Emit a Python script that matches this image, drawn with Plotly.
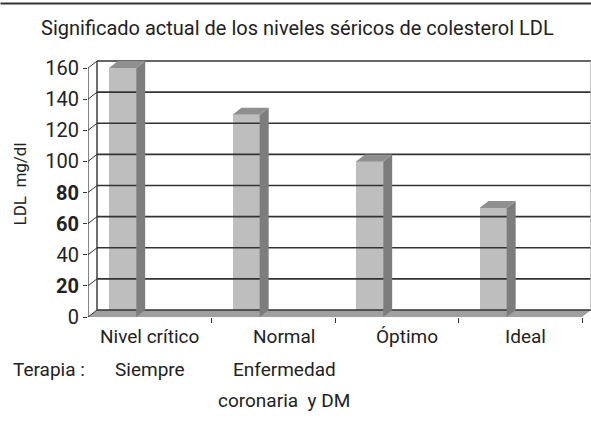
import plotly.graph_objects as go

# ---- data ----
categories = ["Nivel crítico", "Normal", "Óptimo", "Ideal"]
ldl_values = [160, 130, 100, 70]
therapy_labels = ["Siempre", "Enfermedad", None, None]
therapy_labels2 = [None, "coronaria  y DM", None, None]
y_ticks = [0, 20, 40, 60, 80, 100, 120, 140, 160]
y_ticktext = ["0", "<b>20</b>", "40", "<b>60</b>", "<b>80</b>", "100", "120", "140", "160"]
title = "Significado actual de los niveles séricos de colesterol LDL"
y_title = "LDL  mg/dl"
therapy_title = "Terapia :"

# ---- styling / geometry ----
FONT = "Roboto, sans-serif"
W, H = 591, 421
L, R, T, B = 88, 0, 60, 104
px_per_cat = 123.5
px_per_unit = 1.556
xmax = (W - L - R) / px_per_cat
ymax = (H - T - B) / px_per_unit
DX = 9 / px_per_cat     # depth offset, x (category units)
DY = 7 / px_per_unit    # depth offset, y (value units)
BAR_OFF, BAR_W = 0.17, 0.22
FRONT, SIDE, TOP = "#bebebe", "#7d7d7d", "#8f8f8f"
GRID = "#333333"
TXT = "#222222"
n = len(categories)

fig = go.Figure()

# floor slab
fig.add_trace(go.Scatter(x=[0, n, n + DX, DX, 0], y=[0, 0, DY, DY, 0], fill="toself",
                         fillcolor="#a0a0a0", line=dict(width=0), mode="lines",
                         hoverinfo="skip", showlegend=False, cliponaxis=False))

# back wall gridlines
gx, gy = [], []
for v in y_ticks:
    gx += [DX, n + DX, None]
    gy += [v + DY, v + DY, None]
fig.add_trace(go.Scatter(x=gx, y=gy, mode="lines", line=dict(color=GRID, width=1.6),
                         hoverinfo="skip", showlegend=False, cliponaxis=False))
# back wall left edge, right edge
fig.add_trace(go.Scatter(x=[DX, DX], y=[DY, y_ticks[-1] + DY], mode="lines",
                         line=dict(color=GRID, width=1.4), hoverinfo="skip",
                         showlegend=False, cliponaxis=False))
fig.add_trace(go.Scatter(x=[n + DX, n + DX], y=[DY, y_ticks[-1] + DY], mode="lines",
                         line=dict(color="#b0b0b0", width=1.4), hoverinfo="skip",
                         showlegend=False, cliponaxis=False))
# tick connectors (front axis -> back wall)
cx, cy = [], []
for v in y_ticks:
    cx += [0, DX, None]
    cy += [v, v + DY, None]
fig.add_trace(go.Scatter(x=cx, y=cy, mode="lines", line=dict(color=GRID, width=1),
                         hoverinfo="skip", showlegend=False, cliponaxis=False))
# front axis line
fig.add_trace(go.Scatter(x=[0, 0], y=[0, y_ticks[-1]], mode="lines",
                         line=dict(color=GRID, width=1.2), hoverinfo="skip",
                         showlegend=False, cliponaxis=False))

# bars: front face
bar_x = [i + BAR_OFF + BAR_W / 2 for i in range(n)]
fig.add_trace(go.Bar(x=bar_x, y=ldl_values, width=BAR_W, marker=dict(color=FRONT, line=dict(width=0)),
                     showlegend=False, hoverinfo="skip"))
# bars: side and top faces
for i, v in enumerate(ldl_values):
    x0 = i + BAR_OFF
    x1 = x0 + BAR_W
    fig.add_trace(go.Scatter(x=[x1, x1 + DX, x1 + DX, x1, x1], y=[0, DY, v + DY, v, 0],
                             fill="toself", fillcolor=SIDE, line=dict(width=0), mode="lines",
                             hoverinfo="skip", showlegend=False))
    fig.add_trace(go.Scatter(x=[x0, x0 + DX, x1 + DX, x1, x0], y=[v, v + DY, v + DY, v, v],
                             fill="toself", fillcolor=TOP, line=dict(width=0), mode="lines",
                             hoverinfo="skip", showlegend=False))

FS = 19
annotations = []
label_shift = [0, 11, 10, 5]
for i, c in enumerate(categories):
    annotations.append(dict(x=i + 0.5, y=0, xref="x", yref="y", text=c, showarrow=False,
                            xshift=label_shift[i], yshift=-19, font=dict(size=FS, color=TXT),
                            xanchor="center", yanchor="middle"))
for i, t in enumerate(therapy_labels):
    if t:
        annotations.append(dict(x=i + 0.5, y=0, xref="x", yref="y", text=t, showarrow=False,
                                xshift=label_shift[i], yshift=-52, font=dict(size=FS, color=TXT),
                                xanchor="center", yanchor="middle"))
for i, t in enumerate(therapy_labels2):
    if t:
        annotations.append(dict(x=i + 0.5, y=0, xref="x", yref="y", text=t, showarrow=False,
                                xshift=label_shift[i], yshift=-83, font=dict(size=FS, color=TXT),
                                xanchor="center", yanchor="middle"))
annotations.append(dict(x=0, y=0, xref="x", yref="y", text=therapy_title, showarrow=False,
                        xshift=-39, yshift=-52, font=dict(size=FS, color=TXT),
                        xanchor="center", yanchor="middle"))
annotations.append(dict(x=0, y=80, xref="x", yref="y", text=y_title, showarrow=False,
                        xshift=-68, yshift=8, textangle=-90, font=dict(size=17, color=TXT),
                        xanchor="center", yanchor="middle"))
annotations.append(dict(x=(297 - L) / (W - L - R), y=(H - 28 - B) / (H - T - B),
                        xref="paper", yref="paper", text=title, showarrow=False,
                        font=dict(size=20, color=TXT), xanchor="center", yanchor="middle"))
# top rule, drawn as a thin filled annotation box
annotations.append(dict(x=-L / (W - L - R), y=(H - 2 - B) / (H - T - B), xref="paper", yref="paper",
                        text=" ", showarrow=False, width=W, height=1, borderpad=0,
                        bgcolor="#333333", font=dict(size=1), xanchor="left", yanchor="top"))

fig.update_layout(
    width=W, height=H, margin=dict(l=L, r=R, t=T, b=B, autoexpand=False),
    paper_bgcolor="white", plot_bgcolor="white",
    font=dict(family=FONT, size=FS, color=TXT),
    bargap=0, showlegend=False,
    annotations=annotations,
    xaxis=dict(range=[0, xmax], showgrid=False, zeroline=False, showline=False,
               showticklabels=False, ticks="", fixedrange=True, automargin=False,
               minor=dict(tickvals=list(range(1, n + 1)), ticks="outside", ticklen=5,
                          tickcolor=GRID, tickwidth=1)),
    yaxis=dict(range=[0, ymax], showgrid=False, zeroline=False, showline=False,
               tickvals=y_ticks, ticktext=y_ticktext, ticks="outside", ticklen=4,
               tickcolor=GRID, tickfont=dict(size=20, color=TXT), fixedrange=True,
               automargin=False),
)

fig.write_html("out.html", config={"displayModeBar": False},
               post_script="document.body.style.margin='0';document.body.style.overflow='hidden';")
